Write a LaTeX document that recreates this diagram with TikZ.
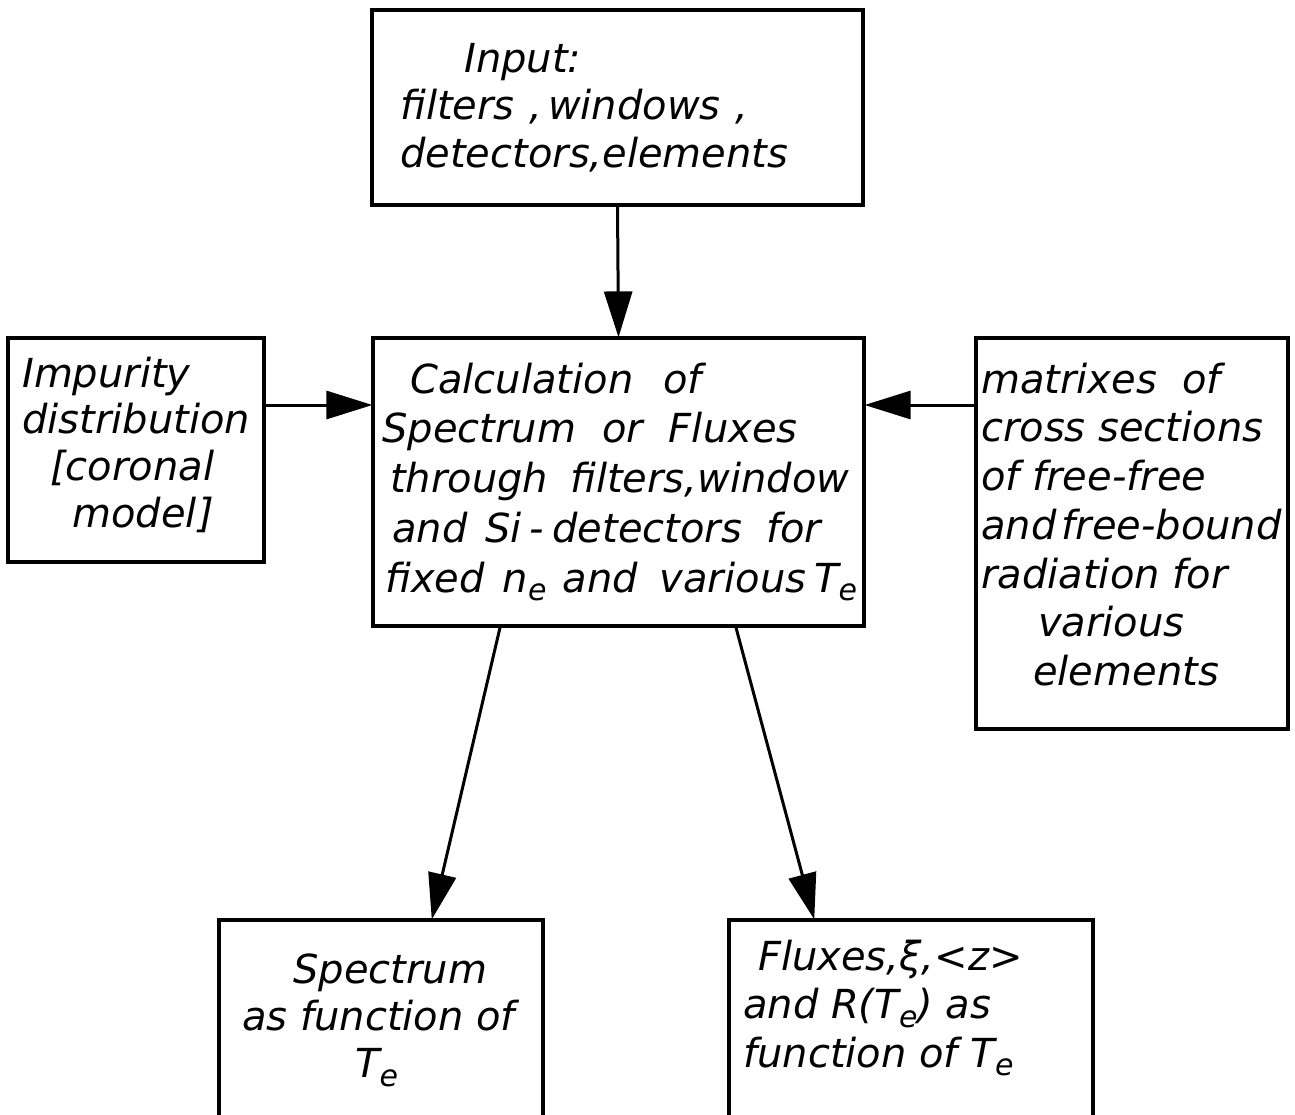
\documentclass[tikz,border=0pt]{standalone}
\usepackage{fontspec}
\setmainfont{DejaVu Sans}
\usetikzlibrary{arrows.meta}
\newcommand\subE{\raisebox{-0.22em}{\fontsize{30}{30}\selectfont e}}
\begin{document}
\begin{tikzpicture}[x=1pt,y=-1pt,
  box/.style={draw, line width=3.2pt, rectangle, inner sep=0pt},
  txt/.style={anchor=north west, inner sep=0pt, align=left, font=\fontsize{40}{#1}\selectfont\itshape},
  flow/.style={line width=3pt, -{Triangle[length=46pt,width=28pt]}, shorten >=-1pt}]
\clip (0,0) rectangle (1295,1114);
\fill[white] (0,0) rectangle (1295,1114);
% boxes
\node[box, minimum width=491pt, minimum height=195pt] (input) at (617.5,107.5) {};
\node[box, minimum width=491pt, minimum height=288pt] (calc) at (618.5,482) {};
\node[box, minimum width=256pt, minimum height=224pt] (imp) at (136,450) {};
\node[box, minimum width=312pt, minimum height=391pt] (mat) at (1132,533.5) {};
\node[box, minimum width=324pt, minimum height=260pt] (spec) at (381,1050) {};
\node[box, minimum width=364pt, minimum height=260pt] (flux) at (911,1050) {};
% texts
\node[txt=47.5] (inputtext) at (400,38.75) {\strut\hspace*{64pt}Input:\\filters\hspace{2pt} ,\hspace{6pt}windows\hspace{2pt} ,\\detectors,elements};
\node[txt=46.7] (imptext) at (22,354.3) {\strut Impurity\\distribution\\\hspace*{28pt}[coronal\\\hspace*{50pt}model\hspace{2pt}]};
\node[txt=49.7] (calctext) at (382,358.2) {\strut\hspace*{28pt}Calculation\hspace{30pt}of\\Spectrum\hspace{26pt}or\hspace{26pt}Fluxes\\\hspace*{8pt}through\hspace{22pt}filters,window\\\hspace*{10pt}and\hspace{18pt}Si\hspace{8pt}-\hspace{8pt}detectors\hspace{24pt}for\\\hspace*{3pt}fixed\hspace{18pt}n\subE\hspace{16pt}and\hspace{22pt}various\hspace{8pt}T\subE};
\node[txt=48.7] (mattext) at (981,358.9) {\strut matrixes\hspace{25pt}of\\cross sections\\of free-free\\and\hspace{5pt}free-bound\\radiation for\\\hspace*{57pt}various\\\hspace*{52pt}elements};
\node[txt=47] (spectext) at (242,950.1) {\strut\hspace*{51pt}Spectrum\\as function of\\\hspace*{113pt}T\subE};
\node[txt=48.5] (fluxtext) at (743,936) {\strut\hspace*{15pt}Fluxes,ξ,<z>\\and R(T\subE) as\\function of T\subE};
% connectors
\draw[flow] (input.south) -- (calc.north);
\draw[flow] (imp.east |- 0,405) -- (calc.west |- 0,405);
\draw[flow] (mat.west |- 0,405) -- (calc.east |- 0,405);
\draw[flow] (calc.south -| 500,0) -- (spec.north -| 432,0);
\draw[flow] (calc.south -| 736,0) -- (flux.north -| 814,0);
\end{tikzpicture}
\end{document}
